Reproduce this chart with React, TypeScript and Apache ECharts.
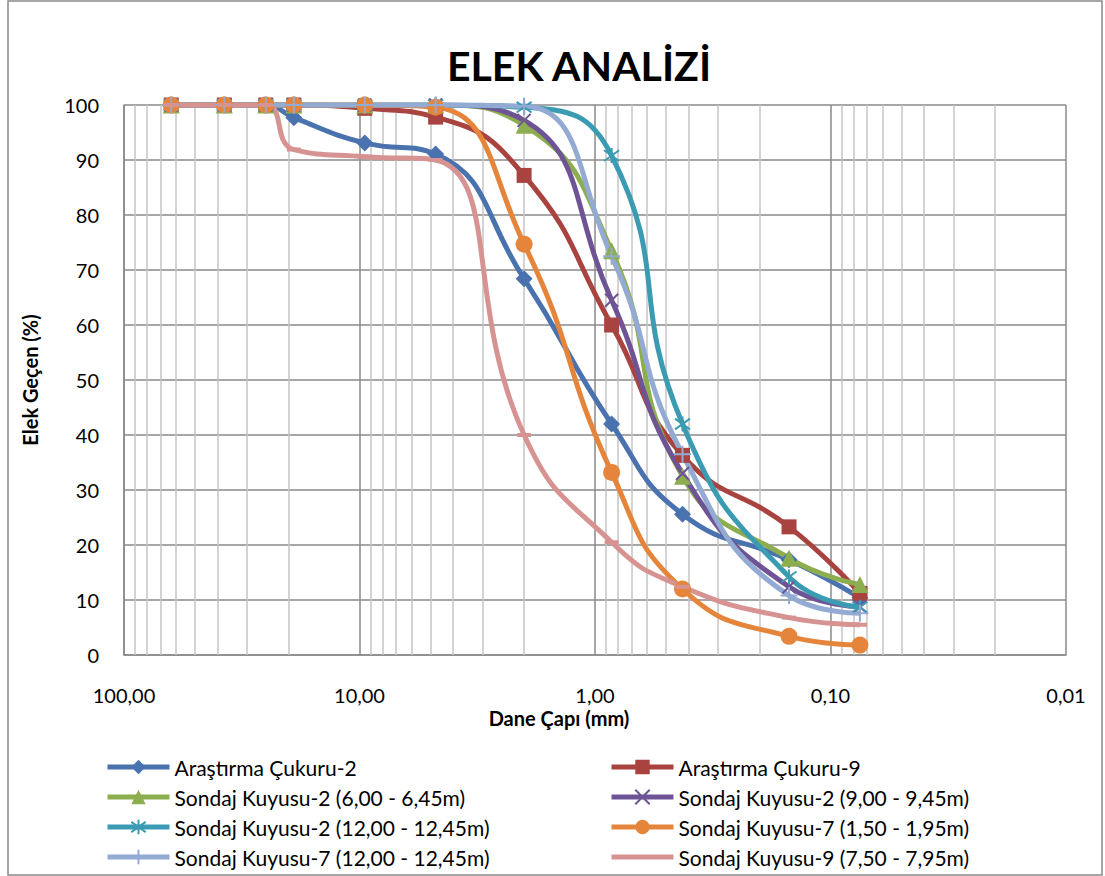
import React, { useEffect, useRef } from "react";
import * as echarts from "echarts";

const TITLE = "ELEK ANALİZİ";
const X_NAME = "Dane Çapı (mm)";
const Y_NAME = "Elek Geçen (%)";

// sieve sizes (mm)
const SIZES = [63, 37.5, 25, 19, 9.5, 4.75, 2, 0.85, 0.425, 0.15, 0.075];

const NAMES = [
  "Araştırma Çukuru-2",
  "Araştırma Çukuru-9",
  "Sondaj Kuyusu-2 (6,00 - 6,45m)",
  "Sondaj Kuyusu-2 (9,00 - 9,45m)",
  "Sondaj Kuyusu-2 (12,00 - 12,45m)",
  "Sondaj Kuyusu-7 (1,50 - 1,95m)",
  "Sondaj Kuyusu-7 (12,00 - 12,45m)",
  "Sondaj Kuyusu-9 (7,50 - 7,95m)",
];

const AC2 = [100, 100, 100, 97.7, 93.1, 91.1, 68.4, 42, 25.6, 17.3, 10.4];
const AC9 = [100, 100, 100, 100, 99.4, 97.8, 87.2, 60, 36.3, 23.3, 11.2];
const SK2A = [100, 100, 100, 100, 100, 100, 96.3, 73.5, 32.5, 17.6, 12.8];
const SK2B = [100, 100, 100, 100, 100, 100, 97.2, 64.5, 33, 12.4, 8.8];
const SK2C = [100, 100, 100, 100, 100, 100, 99.6, 90.8, 42, 14.2, 8.7];
const SK7A = [100, 100, 100, 100, 100, 99.6, 74.7, 33.2, 12, 3.4, 1.8];
const SK7B = [100, 100, 100, 100, 100, 100, 99.8, 72.5, 36.5, 10.8, 7.6];
const SK9 = [100, 100, 100, 91.9, 90.6, 90.0, 40, 20.5, 12.4, 6.8, 5.5];

const VALUES = [AC2, AC9, SK2A, SK2B, SK2C, SK7A, SK7B, SK9];

const COLORS = [
  "#4A72AE",
  "#A94340",
  "#8CAE4F",
  "#6E5495",
  "#3A9BB2",
  "#E5853B",
  "#93AAD3",
  "#D69392",
];

const SYMBOLS = [
  "diamond",
  "rect",
  "triangle",
  "path://M0,0L10,10M10,0L0,10",
  "path://M0,0L10,10M10,0L0,10M5,-2L5,12",
  "circle",
  "path://M5,0L5,10M0,5L10,5",
  "rect",
];
const SYMBOL_SIZES: any[] = [17, 15, 17, 13, 15, 17, 17, [14, 4]];
const STROKED = [false, false, false, true, true, false, true, false];
const HIDE_LEGEND_SYMBOL = [false, false, false, false, false, false, false, true];

const DECADES = [0.01, 0.1, 1, 10];
const MULTS = [2, 3, 4, 5, 6, 7, 8, 9];

const FONT = "Lato, 'Noto Sans', sans-serif";

export default function App() {
  const ref = useRef<HTMLDivElement>(null);
  useEffect(() => {
    document.body.style.margin = "0";
    const chart = echarts.init(ref.current!, undefined, { renderer: "svg" });
    const minorVals: number[] = [];
    DECADES.forEach((d) => MULTS.forEach((m) => minorVals.push(+(d * m).toPrecision(6))));

    const series: any[] = VALUES.map((vals, i) => ({
      name: NAMES[i],
      type: "line",
      smooth: 0.5,
      data: SIZES.map((s, j) => [s, vals[j]]),
      symbol: SYMBOLS[i],
      symbolSize: SYMBOL_SIZES[i],
      showSymbol: true,
      showAllSymbol: true,
      lineStyle: { color: COLORS[i], width: 5 },
      itemStyle: STROKED[i]
        ? { color: COLORS[i], borderColor: COLORS[i], borderWidth: 2 }
        : { color: COLORS[i], borderWidth: 0 },
      emphasis: { disabled: true },
      z: 3,
    }));

    series.unshift({
      name: "__grid",
      type: "line",
      data: [[1, 50]],
      showSymbol: false,
      symbol: "none",
      lineStyle: { width: 0, opacity: 0 },
      silent: true,
      z: 1,
      markLine: {
        silent: true,
        symbol: ["none", "none"],
        label: { show: false },
        lineStyle: { color: "#c4c4c4", width: 1.5, type: "solid" },
        data: minorVals.map((v) => ({ xAxis: v })),
        z: 1,
      },
    });

    const legendItem = (i: number) =>
      HIDE_LEGEND_SYMBOL[i] ? { name: NAMES[i], itemStyle: { opacity: 0 } } : { name: NAMES[i] };

    const legendCommon = {
      orient: "vertical",
      itemWidth: 62,
      itemHeight: 18,
      itemGap: 6,
      padding: 0,
      height: 140,
      textStyle: { fontFamily: FONT, fontSize: 21, color: "#000", lineHeight: 24 },
      lineStyle: { width: 5 },
      selectedMode: false,
    };

    chart.setOption({
      animation: false,
      backgroundColor: "#fff",
      title: {
        text: TITLE,
        left: 574,
        top: 40,
        textAlign: "center",
        textStyle: { fontFamily: FONT, fontSize: 41, fontWeight: "bold", color: "#000" },
      },
      grid: { left: 124, right: 39, top: 105, bottom: 221, containLabel: false },
      xAxis: {
        type: "log",
        logBase: 10,
        min: 0.01,
        max: 100,
        inverse: true,
        axisLine: { show: true, lineStyle: { color: "#8a8a8a", width: 1.5 } },
        axisTick: { show: false },
        splitLine: { show: true, lineStyle: { color: "#8a8a8a", width: 1.5 } },
        axisLabel: {
          fontFamily: FONT,
          fontSize: 20,
          color: "#000",
          margin: 30,
          formatter: (v: number) => v.toFixed(2).replace(".", ","),
        },
      },
      yAxis: {
        type: "value",
        min: 0,
        max: 100,
        interval: 10,
        name: Y_NAME,
        nameLocation: "middle",
        nameGap: 84,
        nameRotate: 90,
        nameTextStyle: { fontFamily: FONT, fontSize: 20, fontWeight: "bold", color: "#000" },
        axisLine: { show: true, lineStyle: { color: "#8a8a8a", width: 1.5 } },
        axisTick: { show: false },
        splitLine: { show: true, lineStyle: { color: "#8a8a8a", width: 1.5 } },
        axisLabel: { fontFamily: FONT, fontSize: 20, color: "#000", margin: 25 },
      },
      legend: [
        { ...legendCommon, left: 105, top: 755, data: [0, 2, 4, 6].map(legendItem) },
        { ...legendCommon, left: 609, top: 755, data: [1, 3, 5, 7].map(legendItem) },
      ],
      graphic: [
        {
          type: "rect",
          shape: { x: 8, y: 1, width: 1094, height: 874 },
          style: { fill: "none", stroke: "#898989", lineWidth: 1.5 },
          silent: true,
          z: -1,
        },
        {
          type: "text",
          x: 559,
          y: 718,
          style: {
            text: X_NAME,
            fontFamily: FONT,
            fontSize: 20,
            fontWeight: "bold",
            fill: "#000",
            align: "center",
            verticalAlign: "middle",
          },
        },
      ],
      series,
    });
    return () => chart.dispose();
  }, []);
  return <div ref={ref} style={{ width: 1105, height: 876 }} />;
}
